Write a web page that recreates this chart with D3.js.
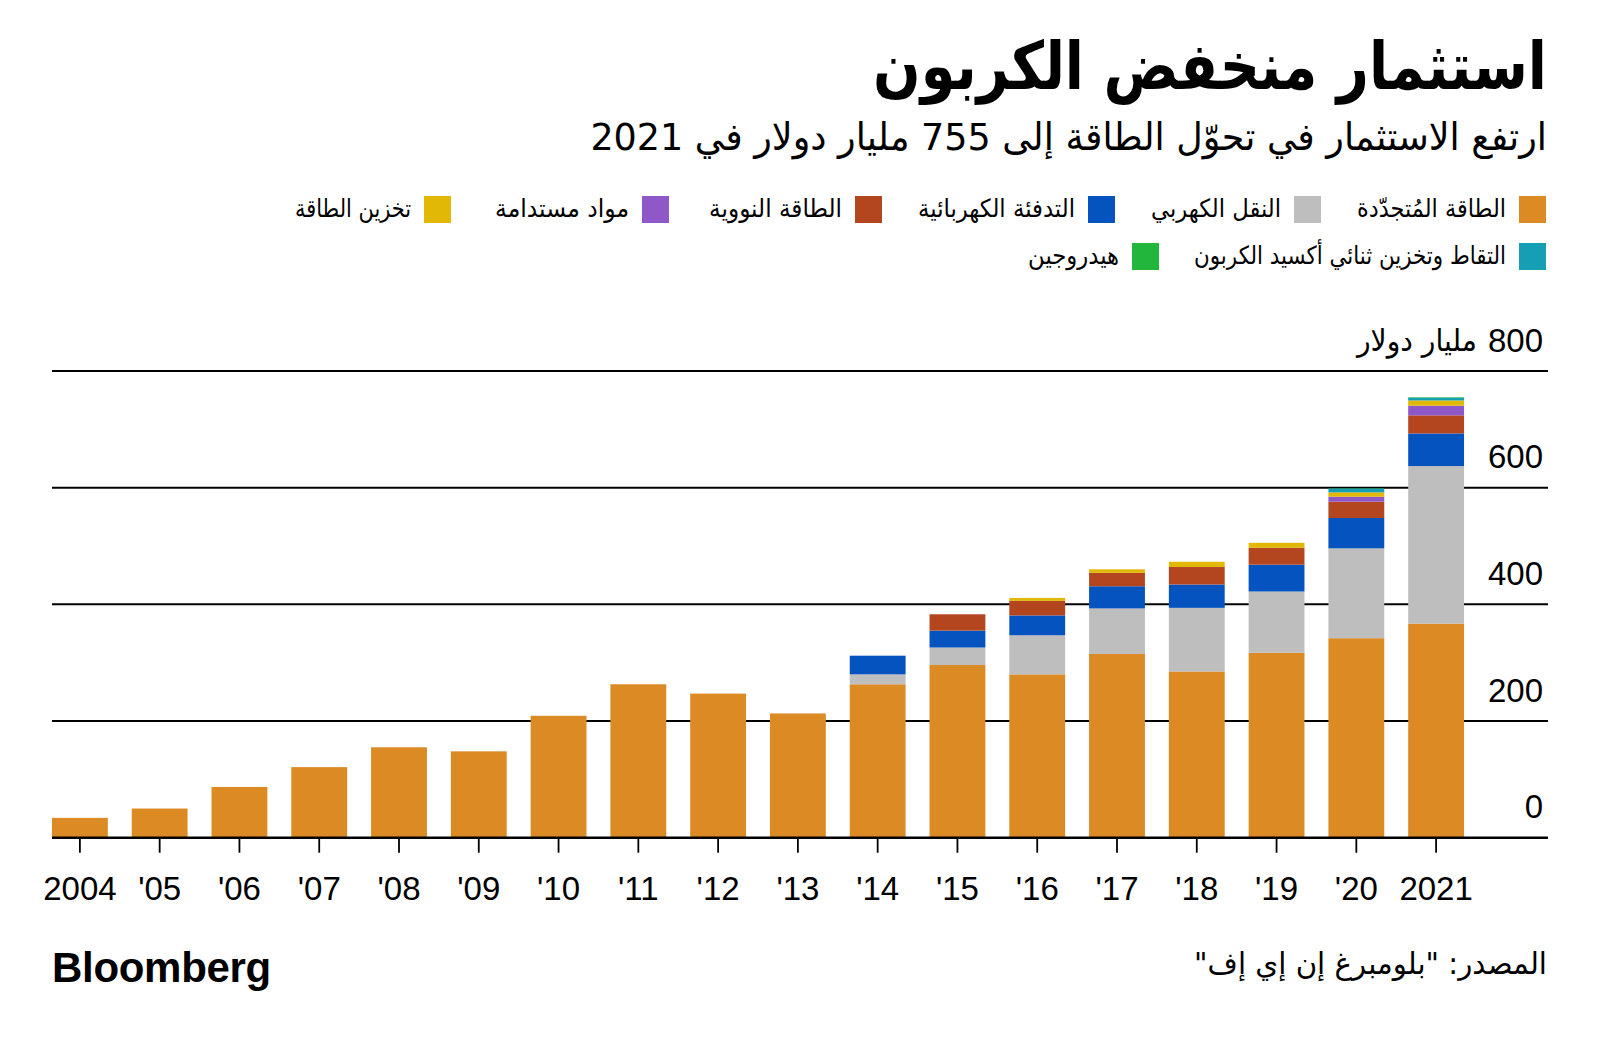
<!DOCTYPE html>
<html><head><meta charset="utf-8">
<script src="https://cdnjs.cloudflare.com/ajax/libs/d3/7.8.5/d3.min.js"></script>
<style>
html,body{margin:0;padding:0;background:#fff;}
svg{display:block;}
.ar{font-family:"DejaVu Sans",sans-serif;}
</style></head>
<body>
<svg id="chart" width="1600" height="1052"></svg>
<script>
// ---------- DATA ----------
const years = ["2004","2005","2006","2007","2008","2009","2010","2011","2012","2013","2014","2015","2016","2017","2018","2019","2020","2021"];
const yearLabels = ["2004","'05","'06","'07","'08","'09","'10","'11","'12","'13","'14","'15","'16","'17","'18","'19","'20","2021"];
const renewables          = [34, 50, 87, 121, 155, 148, 209, 263, 247, 213, 263, 296, 280, 315, 285, 317, 342, 367];
const electrifiedTransport= [0, 0, 0, 0, 0, 0, 0, 0, 0, 0, 17, 30, 67, 78, 109, 105, 154, 270];
const electrifiedHeat     = [0, 0, 0, 0, 0, 0, 0, 0, 0, 0, 32, 29, 34, 38, 40, 46, 52, 56];
const nuclear             = [0, 0, 0, 0, 0, 0, 0, 0, 0, 0, 0, 28, 25, 23, 30, 29, 28, 31];
const sustainableMaterials= [0, 0, 0, 0, 0, 0, 0, 0, 0, 0, 0, 0, 0, 0, 0, 0, 8.5, 16.5];
const energyStorage       = [0, 0, 0, 0, 0, 0, 0, 0, 0, 0, 0, 0, 5, 6, 9, 8.5, 7.5, 9];
const ccs                 = [0, 0, 0, 0, 0, 0, 0, 0, 0, 0, 0, 0, 0, 0, 0, 0, 6.5, 4.5];
const hydrogen            = [0, 0, 0, 0, 0, 0, 0, 0, 0, 0, 0, 0, 0, 0, 0, 0, 0.5, 1];
const seriesKeys   = ["renewables","transport","heat","nuclear","materials","storage","ccs","hydrogen"];
const seriesNames  = ["الطاقة المُتجدّدة","النقل الكهربي","التدفئة الكهربائية","الطاقة النووية","مواد مستدامة","تخزين الطاقة","التقاط وتخزين ثنائي أكسيد الكربون","هيدروجين"];
const seriesColors = ["#DC8A24","#BEBEBE","#0453BE","#B4461F","#8E58C8","#E1B805","#169EB4","#22B73C"];
const yTicks = [0, 200, 400, 600, 800];
const title = "استثمار منخفض الكربون";
const subtitle = "ارتفع الاستثمار في تحوّل الطاقة إلى 755 مليار دولار في 2021";
const unitLabel = "مليار دولار";
const source = "المصدر: \"بلومبرغ إن إي إف\"";

// ---------- LAYOUT ----------
const svg = d3.select("#chart");
const gridLeft = 52, gridRight = 1548;
const numFont = "Liberation Sans, Arial, sans-serif";
const x = d3.scaleBand().domain(years).range([40, 1476]).paddingInner(0.3).paddingOuter(0.15);
const y = d3.scaleLinear().domain([0, 800]).range([837.7, 371]);

const table = years.map((yr, i) => ({
  year: yr,
  renewables: renewables[i], transport: electrifiedTransport[i], heat: electrifiedHeat[i],
  nuclear: nuclear[i], materials: sustainableMaterials[i], storage: energyStorage[i],
  ccs: ccs[i], hydrogen: hydrogen[i]
}));
const stacked = d3.stack().keys(seriesKeys)(table);

// Right-anchored Arabic text, horizontally scaled to a target width
function arText(str, xr, yb, size, width, weight) {
  const g = svg.append("g");
  const tx = g.append("text").attr("class","ar").attr("direction","rtl").attr("text-anchor","start")
    .attr("x", 0).attr("y", 0).attr("font-size", size).attr("font-weight", weight || 400)
    .attr("fill","#000").text(str);
  const n = tx.node().getComputedTextLength();
  const s = width ? width / n : 1;
  g.attr("transform", `translate(${xr},${yb}) scale(${s},1)`);
  return tx;
}

// Title & subtitle
arText(title, 1547, 89, 66, 674, 700);
arText(subtitle, 1547, 150, 38, 957);

// Legend
const legendPos = [
  {sx:1519, sy:196, w:149}, {sx:1294, sy:196, w:130}, {sx:1088, sy:196, w:157},
  {sx:855, sy:196, w:133}, {sx:642, sy:196, w:134}, {sx:424, sy:196, w:116},
  {sx:1519, sy:243, w:312}, {sx:1132, sy:243, w:91}
];
seriesKeys.forEach((k, i) => {
  const p = legendPos[i];
  svg.append("rect").attr("x", p.sx).attr("y", p.sy).attr("width", 27).attr("height", 27).attr("fill", seriesColors[i]);
  arText(seriesNames[i], p.sx - 13, p.sy + 21, 25, p.w);
});

// Gridlines
svg.append("g").selectAll("line").data(yTicks.filter(d => d > 0)).join("line")
  .attr("x1", gridLeft).attr("x2", gridRight).attr("y1", d => y(d)).attr("y2", d => y(d))
  .attr("stroke", "#000").attr("stroke-width", 2);

// Y labels
const yAxis = svg.append("g").attr("transform", `translate(1543,0)`)
  .call(d3.axisLeft(y).tickValues(yTicks).tickSize(0).tickPadding(0));
yAxis.select(".domain").remove();
yAxis.selectAll("text").attr("font-size", 33).attr("fill","#000")
  .attr("dy", 0).attr("y", -20).attr("font-family", numFont);
const w800 = yAxis.selectAll("text").filter(d => d === 800).node().getComputedTextLength();
arText(unitLabel, 1543 - w800 - 11, y(800) - 20, 30, 120);

// Bars
svg.append("g").selectAll("g").data(stacked).join("g")
  .attr("fill", (d, i) => seriesColors[i])
  .selectAll("rect").data(d => d.map(v => ({v, year: v.data.year}))).join("rect")
  .attr("x", d => x(d.year)).attr("width", x.bandwidth())
  .attr("y", d => y(d.v[1])).attr("height", d => Math.max(0, y(d.v[0]) - y(d.v[1])));

// X axis
const xAxis = svg.append("g").attr("transform", `translate(0,${y(0)})`)
  .call(d3.axisBottom(x).tickSize(15).tickPadding(0).tickFormat((d, i) => yearLabels[i]));
xAxis.select(".domain").remove();
xAxis.selectAll(".tick line").attr("stroke","#000").attr("stroke-width", 1.8);
xAxis.selectAll("text").attr("font-size", 33).attr("fill","#000").attr("dy", 0).attr("y", 62)
  .attr("font-family", numFont);
svg.append("line").attr("x1", gridLeft).attr("x2", gridRight).attr("y1", y(0)).attr("y2", y(0))
  .attr("stroke","#000").attr("stroke-width", 2.4);

// Footer
svg.append("text").attr("x", 52).attr("y", 982).attr("font-family", numFont)
  .attr("font-weight", 700).attr("font-size", 42).attr("letter-spacing", -0.3).attr("fill","#000").text("Bloomberg");
arText(source, 1547, 974, 30, 353);
</script>
</body></html>
